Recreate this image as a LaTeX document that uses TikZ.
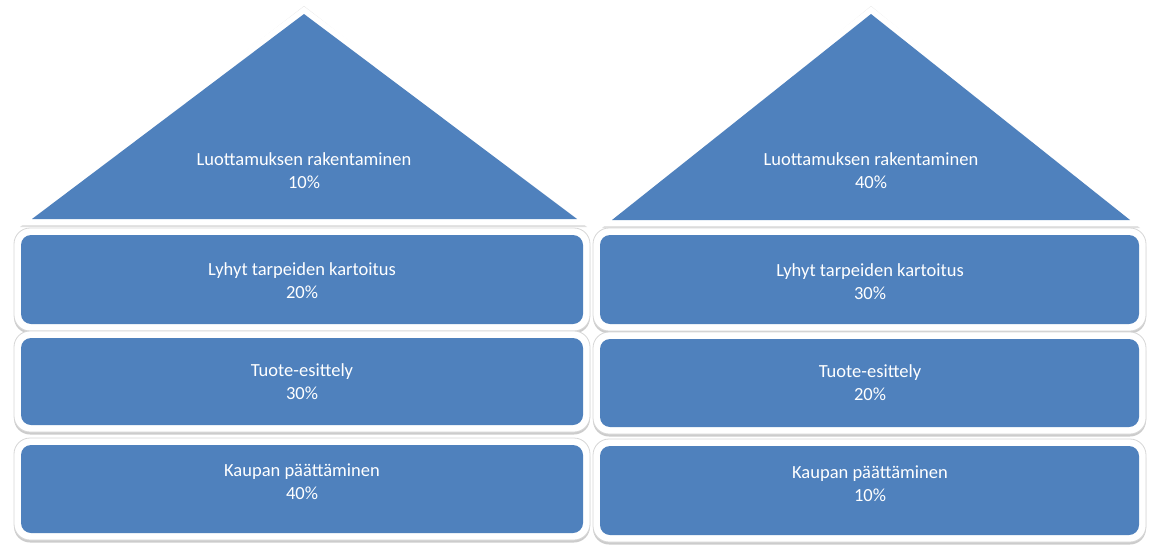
\documentclass[tikz,border=0pt]{standalone}
\usepackage{fontspec}
\setmainfont{Carlito}
\usetikzlibrary{shadows}
\definecolor{ofblue}{HTML}{4F81BD}
\begin{document}
\begin{tikzpicture}[x=1pt,y=-1pt,
  frame/.style={fill=white, draw=black!16, line width=0.8pt, rounded corners=16pt, inner sep=0pt,
    drop shadow={shadow xshift=0pt,shadow yshift=-2.5pt,opacity=.4,fill=black!50}},
  blk/.style={fill=ofblue, draw=none, rounded corners=10pt, inner sep=0pt},
  lbl/.style={text=white, align=center, inner sep=0pt, font=\fontsize{18.5}{23}\selectfont},
  roofw/.style={draw=white, fill=white, line width=12pt, line join=miter},
  roofb/.style={fill=ofblue, draw=none}
]
\useasboundingbox (0,0) rectangle (1151,546);
% roofs
\path[fill=black!25, opacity=.5] (304,6) -- (587,227) -- (20,227) -- cycle;
\path[roofw] (304,14) -- (577,219) -- (32,219) -- cycle;
\path[roofb] (304,14) -- (577,219) -- (32,219) -- cycle;
\path[fill=black!25, opacity=.5] (871,6) -- (1140,228) -- (602,228) -- cycle;
\path[roofw] (871,14) -- (1130,220) -- (612,220) -- cycle;
\path[roofb] (871,14) -- (1130,220) -- (612,220) -- cycle;
% left column
\node[frame, minimum width=576pt, minimum height=103pt] (L1f) at (302,279.5) {};
\node[blk, minimum width=562pt, minimum height=89pt] (L1) at (302,279.5) {};
\node[frame, minimum width=576pt, minimum height=101pt] (L2f) at (302,381.5) {};
\node[blk, minimum width=562pt, minimum height=87pt] (L2) at (302,381.5) {};
\node[frame, minimum width=576pt, minimum height=102pt] (L3f) at (302,489) {};
\node[blk, minimum width=562pt, minimum height=88pt] (L3) at (302,489) {};
% right column
\node[frame, minimum width=553pt, minimum height=103pt] (R1f) at (869.5,279.5) {};
\node[blk, minimum width=539pt, minimum height=89pt] (R1) at (869.5,279.5) {};
\node[frame, minimum width=553pt, minimum height=102pt] (R2f) at (869.5,383) {};
\node[blk, minimum width=539pt, minimum height=88pt] (R2) at (869.5,383) {};
\node[frame, minimum width=553pt, minimum height=103pt] (R3f) at (869.5,490.5) {};
\node[blk, minimum width=539pt, minimum height=89pt] (R3) at (869.5,490.5) {};
% labels
\node[lbl] (tL0) at (304,170.5) {Luottamuksen rakentaminen\\10\%};
\node[lbl] (tL1) at (302,281) {Lyhyt tarpeiden kartoitus\\20\%};
\node[lbl] (tL2) at (302,381.5) {Tuote-esittely\\30\%};
\node[lbl] (tL3) at (302,481.5) {Kaupan päättäminen\\40\%};
\node[lbl] (tR0) at (871,170.5) {Luottamuksen rakentaminen\\40\%};
\node[lbl] (tR1) at (870,281.5) {Lyhyt tarpeiden kartoitus\\30\%};
\node[lbl] (tR2) at (870,382.5) {Tuote-esittely\\20\%};
\node[lbl] (tR3) at (870,483.5) {Kaupan päättäminen\\10\%};
\end{tikzpicture}
\end{document}
